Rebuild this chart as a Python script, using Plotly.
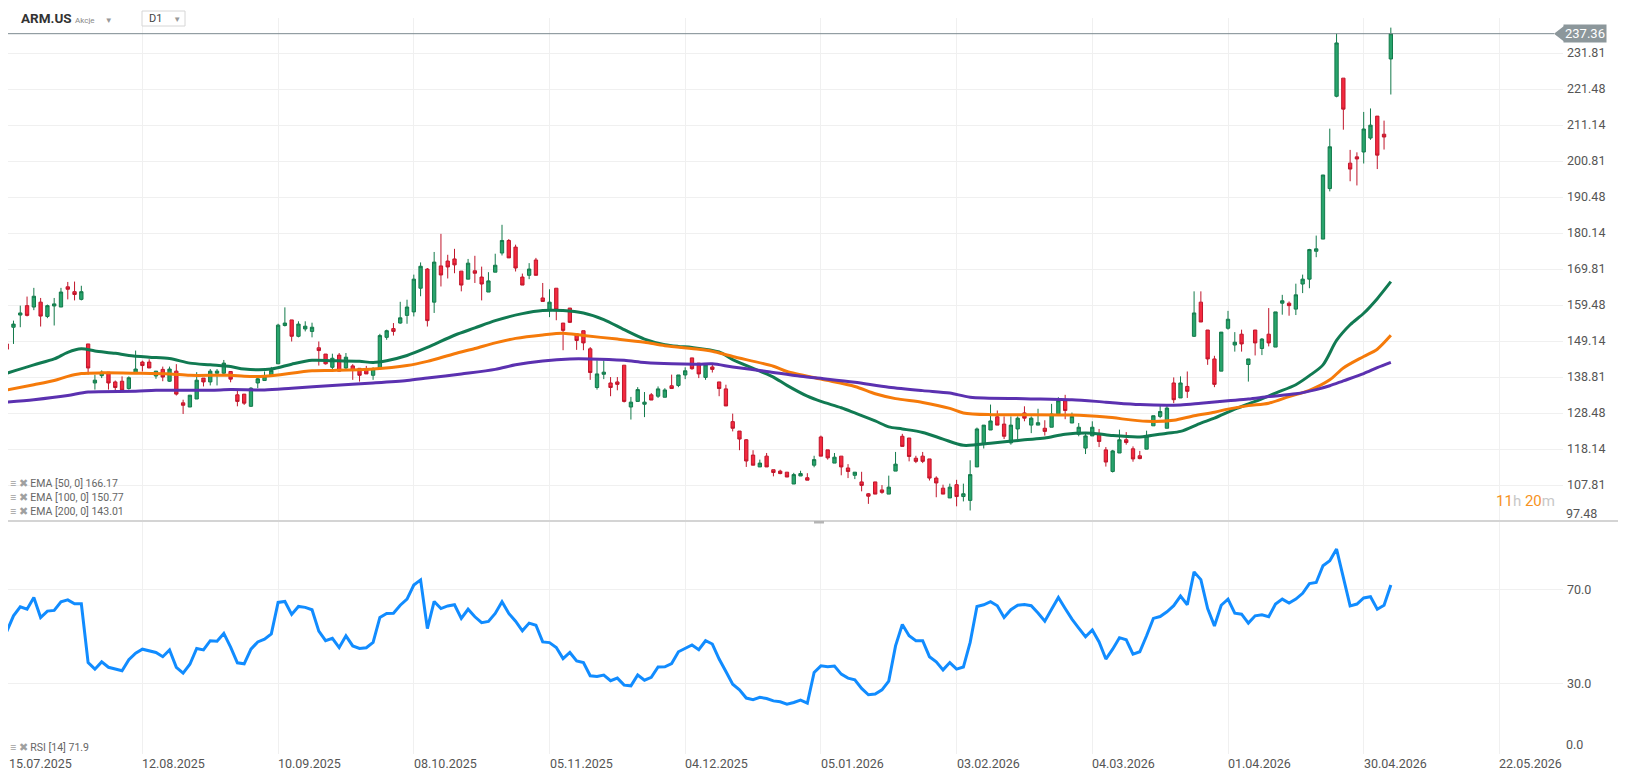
"""
ARM.US daily candles with EMA 50/100/200 and RSI(14) pane.
Values read off a broker chart screenshot.
"""

import plotly.graph_objects as go

# =============================================================================
# DATA
# =============================================================================

# bar index 0 = 15.07.2025, one bar per trading day
OPEN = [
    148.3, 153.1, 156.6, 159.3, 158.9, 160.3, 156.2, 159.2, 158.9, 164.7,
    163.3, 161.1, 148.3, 137.1, 139.2, 140.2, 137.4, 137.6, 135.5, 139.8,
    143.1, 143.1, 139.1, 141.0, 137.6, 140.5, 131.4, 130.2, 132.5, 138.5,
    137.4, 139.9, 139.9, 140.4, 133.7, 133.9, 130.4, 137.1, 137.8, 139.3,
    142.6, 153.6, 155.2, 150.5, 152.6, 151.9, 147.2, 145.4, 141.6, 145.1,
    141.4, 142.0, 141.3, 141.1, 139.3, 141.4, 150.2, 152.7, 154.3, 156.5,
    157.5, 164.3, 169.8, 160.3, 170.7, 172.1, 172.7, 169.2, 166.9, 169.3,
    167.5, 163.2, 168.9, 174.4, 178.0, 176.1, 167.5, 168.0, 172.4, 161.5,
    158.1, 164.3, 154.3, 158.6, 151.2, 152.1, 146.9, 135.8, 139.6, 137.1,
    137.4, 142.2, 130.2, 131.8, 131.0, 133.7, 133.3, 133.0, 136.3, 136.4,
    139.4, 144.3, 142.8, 138.7, 141.7, 137.4, 135.4, 126.0, 123.3, 120.8,
    116.4, 113.0, 116.1, 112.2, 111.8, 111.5, 108.1, 110.4, 109.9, 113.5,
    121.6, 117.9, 114.1, 116.1, 112.7, 110.6, 108.7, 105.3, 108.7, 106.4,
    105.2, 111.8, 121.8, 121.3, 115.5, 116.1, 115.3, 109.8, 106.9, 104.1,
    107.9, 104.5, 103.4, 113.0, 119.6, 123.6, 127.4, 125.3, 119.9, 123.9,
    128.5, 125.0, 125.0, 124.1, 124.4, 128.2, 132.0, 125.6, 122.4, 118.4,
    121.9, 122.4, 117.9, 111.7, 117.0, 120.8, 118.2, 116.2, 118.1, 124.8,
    127.5, 124.1, 137.1, 132.8, 136.1, 150.5, 160.3, 152.3, 144.0, 140.5,
    152.8, 148.0, 151.1, 142.4, 152.3, 147.0, 151.1, 147.4, 160.0, 160.0,
    158.3, 165.5, 166.9, 174.9, 178.4, 192.9, 219.4, 224.6, 200.2, 202.0,
    203.4, 207.4, 213.7, 208.5, 230.1,
]
HIGH = [
    150.0, 155.0, 159.3, 161.9, 164.4, 161.5, 159.6, 161.5, 164.4, 166.1,
    166.2, 165.0, 148.3, 139.5, 140.7, 140.2, 137.8, 139.0, 139.0, 146.4,
    143.5, 143.9, 140.5, 141.8, 141.8, 142.5, 132.3, 133.6, 140.2, 138.5,
    141.1, 141.1, 143.7, 140.4, 135.0, 133.9, 135.9, 138.8, 140.4, 141.7,
    154.1, 158.8, 155.2, 154.8, 154.8, 154.4, 149.0, 145.4, 145.5, 145.7,
    145.7, 142.5, 141.3, 142.0, 141.6, 151.2, 152.4, 154.3, 160.4, 161.0,
    168.2, 171.7, 170.1, 174.7, 179.9, 173.9, 175.6, 169.2, 172.7, 173.6,
    170.5, 168.9, 174.2, 182.5, 178.4, 176.8, 168.5, 171.5, 173.0, 165.8,
    164.0, 164.3, 154.3, 158.6, 151.2, 152.1, 147.4, 143.6, 143.6, 138.8,
    138.8, 142.2, 133.1, 135.9, 134.5, 134.2, 136.1, 135.6, 139.5, 139.4,
    141.6, 144.3, 142.8, 142.6, 142.8, 137.4, 136.6, 128.3, 123.3, 121.0,
    117.8, 115.1, 117.0, 112.2, 112.2, 111.5, 111.3, 111.9, 111.2, 116.2,
    122.0, 117.9, 117.0, 116.1, 113.8, 111.5, 111.6, 105.5, 108.7, 107.8,
    110.5, 117.3, 122.5, 121.3, 116.2, 117.3, 115.3, 110.3, 107.9, 108.2,
    109.3, 108.2, 114.9, 124.3, 125.0, 130.9, 129.2, 127.5, 127.5, 127.5,
    130.4, 127.5, 129.7, 126.4, 131.1, 133.0, 133.7, 128.6, 125.6, 122.7,
    126.1, 123.9, 118.7, 117.9, 123.7, 123.0, 118.9, 117.6, 123.4, 127.7,
    130.9, 130.6, 138.7, 139.0, 140.4, 163.4, 163.4, 152.3, 144.9, 151.7,
    157.8, 151.7, 152.4, 144.0, 152.3, 150.0, 158.6, 157.5, 162.4, 160.5,
    165.6, 168.2, 175.6, 179.4, 196.8, 210.1, 237.4, 224.6, 204.0, 203.3,
    214.9, 215.9, 213.7, 212.4, 239.1,
]
LOW = [
    146.2, 148.3, 153.1, 156.2, 158.0, 153.3, 155.7, 153.6, 158.9, 161.1,
    160.8, 160.8, 139.5, 135.2, 138.5, 135.2, 134.9, 134.7, 135.2, 139.8,
    140.4, 141.4, 138.3, 137.6, 137.4, 133.5, 128.2, 130.2, 132.5, 136.1,
    136.4, 136.4, 139.5, 137.3, 130.4, 130.8, 130.2, 135.6, 137.8, 139.0,
    142.6, 153.3, 149.0, 150.2, 151.9, 150.2, 142.1, 142.4, 141.1, 140.4,
    141.1, 138.0, 137.5, 139.7, 138.0, 141.4, 149.5, 150.7, 154.1, 154.1,
    156.2, 162.0, 153.3, 157.2, 164.8, 167.1, 168.6, 163.4, 166.9, 165.8,
    160.8, 163.2, 168.9, 173.7, 173.0, 169.1, 165.2, 166.9, 168.0, 160.5,
    156.0, 155.1, 146.5, 154.3, 146.6, 146.5, 138.0, 135.2, 138.2, 133.3,
    135.0, 131.5, 126.6, 131.8, 127.3, 132.2, 132.8, 133.0, 135.5, 135.9,
    138.2, 140.9, 138.5, 138.0, 140.1, 133.3, 130.5, 123.2, 117.8, 113.0,
    113.5, 113.0, 113.0, 110.3, 110.9, 110.1, 108.1, 110.4, 109.2, 112.9,
    116.1, 115.1, 114.1, 110.6, 109.8, 109.5, 106.0, 102.4, 105.2, 105.3,
    105.2, 111.8, 118.9, 114.6, 114.1, 114.1, 109.1, 104.3, 105.2, 104.1,
    101.7, 103.1, 100.5, 113.0, 118.3, 123.6, 125.0, 121.0, 119.4, 121.0,
    126.1, 122.7, 125.0, 122.0, 124.4, 128.2, 126.7, 125.6, 121.8, 116.7,
    121.9, 118.7, 113.1, 111.4, 117.0, 119.4, 114.5, 115.2, 118.1, 124.8,
    127.0, 124.1, 131.3, 132.8, 132.8, 150.3, 154.6, 142.3, 135.9, 140.5,
    152.4, 146.1, 146.1, 137.5, 145.0, 145.1, 147.6, 147.4, 156.7, 156.4,
    156.6, 162.9, 164.3, 173.2, 178.4, 192.1, 219.1, 209.8, 195.0, 193.8,
    200.1, 206.9, 198.5, 204.1, 219.9,
]
CLOSE = [
    146.8, 154.0, 157.2, 156.5, 162.0, 156.3, 159.3, 159.8, 163.2, 164.0,
    162.5, 163.3, 141.4, 137.9, 140.2, 137.1, 135.8, 135.0, 138.6, 141.1,
    142.1, 141.4, 140.5, 138.8, 141.1, 133.9, 130.7, 133.6, 137.9, 137.4,
    140.5, 140.5, 142.8, 138.2, 131.8, 131.3, 135.6, 138.3, 139.0, 140.7,
    153.7, 154.3, 150.5, 154.0, 153.4, 153.1, 146.4, 142.6, 144.2, 140.5,
    144.5, 140.7, 139.3, 139.7, 141.2, 150.7, 152.1, 151.9, 155.8, 158.9,
    166.9, 170.6, 155.0, 171.8, 168.1, 170.4, 171.0, 165.2, 171.5, 168.6,
    165.5, 166.4, 170.9, 178.0, 173.0, 170.1, 165.2, 169.8, 168.0, 160.5,
    160.3, 158.1, 152.2, 154.5, 149.3, 148.6, 140.1, 139.7, 140.2, 135.8,
    136.7, 131.8, 131.6, 135.2, 131.6, 132.2, 135.4, 135.1, 135.5, 139.4,
    140.6, 141.2, 139.7, 142.3, 141.0, 135.5, 130.5, 124.1, 121.0, 114.7,
    113.5, 114.1, 113.0, 111.4, 111.1, 110.1, 110.8, 111.1, 109.2, 115.1,
    116.1, 115.6, 115.8, 113.0, 111.7, 111.5, 107.7, 104.6, 105.2, 105.7,
    107.2, 113.8, 118.9, 116.0, 114.6, 114.6, 109.8, 108.4, 105.2, 107.2,
    104.5, 105.3, 110.8, 123.9, 125.0, 126.2, 125.0, 121.8, 125.0, 127.0,
    127.0, 127.0, 125.7, 123.2, 128.2, 132.0, 129.2, 127.5, 124.4, 121.9,
    124.4, 120.3, 114.4, 117.6, 120.8, 120.0, 115.3, 115.4, 121.8, 127.7,
    128.9, 129.9, 132.3, 137.1, 134.7, 157.2, 154.6, 144.0, 136.7, 151.7,
    155.4, 148.8, 148.3, 144.0, 148.6, 149.7, 148.6, 157.5, 160.7, 159.3,
    162.4, 166.9, 175.4, 175.6, 196.8, 204.9, 234.7, 215.7, 198.5, 201.4,
    210.0, 211.1, 202.5, 207.7, 237.36,
]

RSI = [
    52.1, 58.8, 62.6, 61.6, 66.6, 58.1, 60.8, 61.1, 64.8, 65.6,
    63.9, 63.9, 38.9, 36.1, 39.2, 36.9, 36.2, 35.4, 40.1, 42.9,
    44.6, 43.9, 43.2, 41.4, 44.3, 36.9, 34.4, 38.2, 44.9, 44.3,
    48.2, 48.0, 51.3, 45.5, 38.8, 38.4, 44.6, 47.7, 48.9, 51.1,
    64.5, 64.9, 59.4, 62.8, 62.4, 61.4, 52.3, 48.2, 49.2, 45.3,
    50.3, 46.0, 44.9, 45.2, 47.5, 58.1, 59.8, 59.9, 63.3, 65.9,
    71.9, 74.1, 53.4, 64.9, 61.9, 63.0, 63.5, 57.7, 61.6, 58.4,
    55.9, 56.4, 59.8, 64.8, 59.8, 56.5, 52.4, 55.7, 54.8, 47.7,
    47.4, 45.3, 40.6, 43.2, 39.6, 38.9, 33.3, 33.0, 33.6, 31.2,
    32.3, 29.3, 29.0, 33.6, 31.4, 32.6, 37.0, 37.1, 38.5, 43.5,
    45.0, 46.4, 44.4, 48.2, 46.8, 40.4, 35.1, 29.7, 27.3, 23.8,
    23.1, 24.1, 23.6, 22.6, 22.2, 21.2, 21.9, 22.9, 21.6, 34.7,
    37.5, 37.1, 37.4, 34.0, 32.3, 31.6, 27.9, 25.2, 25.5, 27.3,
    31.0, 46.0, 55.1, 50.3, 48.2, 48.2, 41.4, 39.2, 35.8, 38.9,
    36.1, 37.0, 47.5, 62.8, 63.5, 64.8, 63.1, 58.1, 61.4, 63.3,
    63.6, 63.1, 60.0, 56.5, 61.6, 66.6, 61.9, 57.4, 53.6, 49.9,
    52.8, 47.7, 40.4, 44.6, 49.5, 48.6, 42.5, 43.5, 50.3, 57.7,
    58.5, 60.5, 63.1, 67.2, 63.5, 77.5, 74.2, 61.9, 54.5, 63.3,
    65.9, 59.9, 59.5, 55.7, 58.8, 59.2, 58.4, 63.8, 65.9, 64.2,
    65.9, 68.4, 72.5, 73.0, 80.1, 82.2, 87.2, 75.1, 63.0, 63.8,
    66.4, 66.9, 61.6, 63.3, 71.9,
]

# EMA lines sampled at selected bars
EMA50_IDX = [0, 4, 7, 9, 11, 13, 16, 18, 21, 24, 27, 30, 33, 35, 39, 42, 45,
             48, 52, 54, 56, 59, 62, 66, 69, 72, 76, 79, 82, 85, 88, 91, 94,
             97, 99, 101, 105, 107, 111, 113, 115, 118, 120, 123, 125, 128,
             130, 132, 135, 138, 141, 145, 150, 153, 156, 160, 163, 167, 171,
             173, 176, 178, 181, 184, 187, 190, 192, 194, 196, 198, 200, 202,
             204]
EMA50_VAL = [139.9, 142.3, 144.0, 145.9, 146.9, 146.3, 145.6, 145.0, 144.5,
             144.1, 142.8, 142.3, 141.8, 141.1, 141.1, 142.5, 143.6, 143.5,
             143.3, 143.0, 143.5, 145.0, 147.3, 150.8, 152.9, 155.0, 157.0,
             157.9, 157.9, 157.2, 155.3, 152.4, 149.7, 148.1, 147.6, 147.3,
             146.0, 143.8, 140.5, 138.8, 136.4, 133.3, 131.8, 130.0, 128.5,
             126.2, 124.5, 123.9, 122.9, 121.0, 119.2, 119.8, 120.8, 121.3,
             122.4, 122.7, 122.0, 121.6, 122.7, 123.2, 125.6, 127.0, 129.6,
             131.8, 134.2, 136.6, 139.2, 142.3, 149.3, 153.8, 157.1, 161.3,
             166.17]

EMA100_IDX = [0, 4, 7, 9, 11, 14, 19, 24, 27, 33, 35, 38, 45, 48, 54, 59, 62,
              66, 69, 72, 75, 79, 82, 85, 90, 94, 97, 102, 104, 107, 113, 115,
              120, 125, 128, 131, 135, 139, 141, 145, 150, 157, 162, 168, 172,
              175, 178, 180, 183, 186, 189, 192, 195, 197, 200, 202, 204]
EMA100_VAL = [135.1, 136.6, 137.8, 139.0, 139.8, 140.0, 139.9, 139.7, 139.3,
              139.3, 139.0, 139.0, 140.6, 140.7, 141.1, 142.1, 143.3, 145.5,
              147.0, 148.6, 149.9, 150.9, 151.4, 150.7, 149.7, 148.8, 147.8,
              146.8, 146.2, 144.7, 141.9, 140.4, 138.2, 136.1, 134.0, 132.6,
              131.5, 129.8, 128.5, 128.0, 128.0, 127.9, 127.3, 126.1, 126.4,
              127.7, 128.7, 129.6, 130.6, 131.3, 133.2, 135.0, 138.0, 141.4,
              144.7, 146.8, 150.77]

EMA200_IDX = [0, 4, 9, 12, 19, 22, 30, 33, 38, 42, 48, 54, 59, 62, 67, 72, 75,
              79, 83, 86, 91, 94, 98, 102, 104, 107, 112, 117, 121, 125, 130,
              135, 139, 142, 150, 157, 162, 167, 173, 176, 180, 183, 186, 190,
              193, 195, 197, 200, 202, 204]
EMA200_VAL = [131.6, 132.3, 133.5, 134.5, 134.7, 135.0, 135.0, 135.2, 135.1,
              135.6, 136.4, 137.1, 137.8, 138.5, 139.7, 141.0, 142.3, 143.4,
              144.0, 144.0, 143.6, 143.0, 142.6, 142.5, 142.6, 141.7, 140.4,
              139.0, 138.2, 137.3, 135.9, 134.9, 134.2, 133.0, 132.6, 132.3,
              131.6, 130.9, 130.8, 131.3, 132.0, 132.5, 133.2, 134.0, 135.2,
              136.3, 137.7, 139.8, 141.5, 143.01]

DATE_LABELS = ["15.07.2025", "12.08.2025", "10.09.2025", "08.10.2025",
               "05.11.2025", "04.12.2025", "05.01.2026", "03.02.2026",
               "04.03.2026", "01.04.2026", "30.04.2026", "22.05.2026"]
LABEL_STEP = 20  # bars between date gridlines

PRICE_TICKS = [107.81, 118.14, 128.48, 138.81, 149.14, 159.48, 169.81,
               180.14, 190.48, 200.81, 211.14, 221.48, 231.81]
PRICE_BOTTOM = 97.48
RSI_TICKS = [0, 30, 70]

# =============================================================================
# LAYOUT GEOMETRY
# =============================================================================

# the page body adds an 8 px margin, so the figure is drawn 8 px smaller and
# every screen position below is given in window pixels and shifted by OFF
OFF = 8
W, H = 1626 - OFF, 779 - OFF
M_L, M_R, M_T, M_B = 0, 63, 10, 25
PLOT_W = W - M_L - M_R
PLOT_H = H - M_T - M_B
SPLIT = 233 / PLOT_H  # rsi pane share

BAR0_PX, BAR_PX = 6.7, 6.785      # window x of bar 0, pixels per bar
PX_PER_PRICE = 1 / 0.28704
PX_PER_RSI = 2.35

GREEN_FILL, GREEN_LINE = "#28a46c", "#137a4b"
RED_FILL, RED_LINE = "#f42a3f", "#c0162b"
EMA_COLORS = ["#117a52", "#f57a0a", "#5b31b0"]
RSI_COLOR = "#118cff"
GRID = "#f0f0f0"
FONT_FAMILY = "Roboto, sans-serif"
AXIS_FONT = dict(family=FONT_FAMILY, size=12.5, color="#555555")


def px(x):
    """window x -> paper x"""
    return (x - OFF - M_L) / PLOT_W


def py(y):
    """window y -> paper y"""
    return (H - M_B - (y - OFF)) / PLOT_H


def label(x, y, text, **kw):
    """Paper-positioned text, anchored explicitly (no auto anchoring)."""
    opts = dict(xref="paper", yref="paper", showarrow=False,
                xanchor="left", yanchor="middle")
    opts.update(kw)
    fig.add_annotation(x=max(x, 0), y=y, text=text, **opts)


bars = list(range(len(CLOSE)))
grid_x = [i * LABEL_STEP for i in range(len(DATE_LABELS))]
x_range = [(OFF + M_L - BAR0_PX) / BAR_PX, (OFF + M_L + PLOT_W - BAR0_PX) / BAR_PX]

fig = go.Figure()

for idx, val, color in [(EMA50_IDX, EMA50_VAL, EMA_COLORS[0]),
                        (EMA100_IDX, EMA100_VAL, EMA_COLORS[1]),
                        (EMA200_IDX, EMA200_VAL, EMA_COLORS[2])]:
    fig.add_trace(go.Scatter(
        x=idx, y=val, mode="lines",
        line=dict(color=color, width=3, shape="spline", smoothing=0.8),
        hoverinfo="skip", showlegend=False, xaxis="x", yaxis="y",
    ))

fig.add_trace(go.Candlestick(
    x=bars, open=OPEN, high=HIGH, low=LOW, close=CLOSE,
    increasing=dict(fillcolor=GREEN_FILL, line=dict(color=GREEN_LINE, width=1)),
    decreasing=dict(fillcolor=RED_FILL, line=dict(color=RED_LINE, width=1)),
    showlegend=False, xaxis="x", yaxis="y",
))

fig.add_trace(go.Scatter(
    x=bars, y=RSI, mode="lines",
    line=dict(color=RSI_COLOR, width=3),
    showlegend=False, xaxis="x2", yaxis="y2",
))

main_h = PLOT_H - 233
fig.update_layout(
    width=W, height=H,
    margin=dict(l=M_L, r=M_R, t=M_T, b=M_B),
    paper_bgcolor="white", plot_bgcolor="white",
    font=AXIS_FONT,
    showlegend=False,
    xaxis=dict(domain=[0, 1], anchor="y", range=x_range, tickvals=grid_x,
               showticklabels=False, showgrid=True, gridcolor=GRID,
               zeroline=False, rangeslider=dict(visible=False), fixedrange=True),
    xaxis2=dict(domain=[0, 1], anchor="y2", matches="x", tickvals=grid_x,
                showticklabels=False, showgrid=True, gridcolor=GRID, zeroline=False),
    yaxis=dict(domain=[SPLIT, 1], anchor="x", side="right",
               range=[PRICE_BOTTOM, PRICE_BOTTOM + main_h / PX_PER_PRICE],
               tickvals=PRICE_TICKS, ticktext=[f"{v:.2f}" for v in PRICE_TICKS],
               showgrid=True, gridcolor=GRID, zeroline=False, ticks="",
               ticklabelstandoff=3),
    yaxis2=dict(domain=[0, SPLIT], anchor="x2", side="right",
                range=[0, 233 / PX_PER_RSI], tickvals=RSI_TICKS,
                ticktext=["", "30.0", "70.0"],
                showgrid=True, gridcolor=GRID, zeroline=False, ticks="",
                ticklabelstandoff=3),
)

# date labels sit left-aligned on their gridline
for gx, date in zip(grid_x, DATE_LABELS):
    fig.add_annotation(x=max(gx, x_range[0]), y=0, xref="x2", yref="paper", text=date,
                       showarrow=False, xanchor="left", yanchor="top",
                       font=AXIS_FONT, xshift=-2 if gx > 0 else -1)

fig.add_annotation(x=1, y=PRICE_BOTTOM, xref="paper", yref="y", text=f"{PRICE_BOTTOM:.2f}",
                   showarrow=False, xanchor="left", yanchor="bottom", font=AXIS_FONT,
                   xshift=1, yshift=-2)
fig.add_annotation(x=1, y=0, xref="paper", yref="y2", text="0.0",
                   showarrow=False, xanchor="left", yanchor="bottom", font=AXIS_FONT,
                   xshift=1)

# pane separator and small drag handle
fig.add_shape(type="line", xref="paper", yref="paper", x0=0, x1=W / PLOT_W,
              y0=SPLIT, y1=SPLIT, line=dict(color="#d4d4d4", width=2))
fig.add_shape(type="rect", xref="paper", yref="paper", x0=px(814), x1=px(824),
              y0=py(523.5), y1=py(521), line=dict(width=0), fillcolor="#b5b5b5")

# last price line and tag
last = CLOSE[-1]
half = 7.7 / PX_PER_PRICE
TAG = "#8c979b"
fig.add_shape(type="line", xref="paper", yref="y", x0=0, x1=px(1554), y0=last, y1=last,
              line=dict(color="#7d8a90", width=1))
fig.add_shape(type="path", xref="paper", yref="y", line=dict(width=0), fillcolor=TAG,
              path=(f"M {px(1554)} {last} L {px(1564)} {last + half} "
                    f"L {px(1564)} {last - half} Z"))
fig.add_annotation(x=1, y=last, xref="paper", yref="y", text=f"{last:.2f}",
                   showarrow=False, xanchor="left", yanchor="middle",
                   bgcolor=TAG, borderpad=1, xshift=0,
                   font=dict(family=FONT_FAMILY, size=13, color="white"))

# countdown
label(px(1557), py(501), xanchor="right",
      text=("<span style='color:#f7931e'>11</span><span style='color:#c8c8c8'>h</span> "
            "<span style='color:#f7931e'>20</span><span style='color:#c8c8c8'>m</span>"),
      font=dict(family=FONT_FAMILY, size=15))

# indicator legend
legend_rows = [
    (483, f"EMA [50, 0] {EMA50_VAL[-1]:.2f}"),
    (497, f"EMA [100, 0] {EMA100_VAL[-1]:.2f}"),
    (511, f"EMA [200, 0] {EMA200_VAL[-1]:.2f}"),
    (747, f"RSI [14] {RSI[-1]:.1f}"),
]
for ypix, txt in legend_rows:
    label(px(4), py(ypix),
          text=f"<span style='color:#a0a0a0'>≡ ✖</span> {txt}",
          font=dict(family=FONT_FAMILY, size=10.5, color="#666666"))

# top toolbar
label(px(19), py(18),
      text="<b>ARM.US</b> <span style='font-size:8px;color:#888888'>Akcje</span>"
           "   <span style='font-size:8px;color:#999999'>▼</span>",
      font=dict(family=FONT_FAMILY, size=13.5, color="#333333"))
fig.add_shape(type="rect", xref="paper", yref="paper", x0=px(142), x1=px(185),
              y0=py(26), y1=py(11), line=dict(color="#d6d6d6", width=1), fillcolor="white")
label(px(147), py(18.5),
      text="D1    <span style='font-size:8px;color:#999999'>▼</span>",
      font=dict(family=FONT_FAMILY, size=11, color="#444444"))

fig.write_html("out.html")
